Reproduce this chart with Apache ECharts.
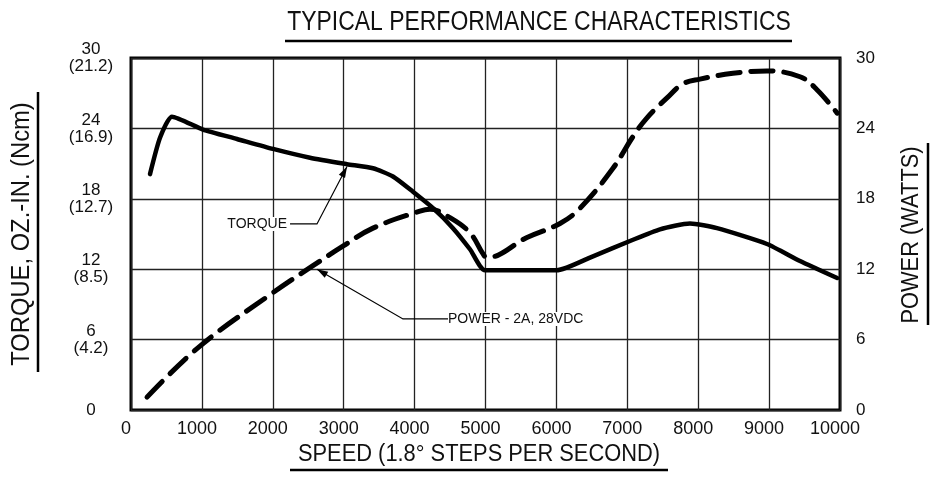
<!DOCTYPE html>
<html>
<head>
<meta charset="utf-8">
<script src="https://cdn.jsdelivr.net/npm/echarts@6/dist/echarts.min.js"></script>
<style>
html,body{margin:0;padding:0;background:#fff;}
#c{width:937px;height:479px;}
</style>
</head>
<body>
<div id="c"></div>
<script>
// ---- data ----
const torqueSpeed  = [268, 409, 578, 1015, 1495, 2003, 2525, 3047, 3413, 3695, 3977, 4260, 4541, 4781, 4995, 6000, 6516, 7038, 7461, 7884, 8265, 8970, 9436, 9960];
const torqueValues = [20.1, 23.2, 25.0, 23.9, 23.1, 22.25, 21.5, 20.95, 20.6, 19.9, 18.6, 17.2, 15.5, 13.7, 11.9, 11.9, 13.1, 14.4, 15.4, 15.9, 15.5, 14.15, 12.7, 11.25];
const powerSpeed   = [226, 973, 2003, 2567, 3000, 3413, 4076, 4217, 4499, 4781, 4965, 5021, 5585, 6051, 6333, 6798, 7080, 7278, 7560, 7786, 8025, 8490, 8970, 9436, 9675, 9960];
const powerValues  = [1.1, 5.45, 10.0, 12.3, 14.0, 15.5, 16.95, 17.1, 16.4, 15.1, 13.3, 13.0, 14.7, 15.9, 17.2, 20.6, 23.3, 24.9, 26.6, 27.8, 28.2, 28.7, 28.9, 28.4, 27.3, 25.3];
const speedTicks = [0, 1000, 2000, 3000, 4000, 5000, 6000, 7000, 8000, 9000, 10000];
const torqueTickLabels = ['0', '6\n(4.2)', '12\n(8.5)', '18\n(12.7)', '24\n(16.9)', '30\n(21.2)'];
const powerTickLabels  = ['0', '6', '12', '18', '24', '30'];
const titleText = 'TYPICAL PERFORMANCE CHARACTERISTICS';
const xName = 'SPEED (1.8° STEPS PER SECOND)';
const yLeftName = 'TORQUE, OZ.-IN. (Ncm)';
const yRightName = 'POWER (WATTS)';
const torqueNote = 'TORQUE';
const powerNote = 'POWER - 2A, 28VDC';

const zip = (xs, ys) => xs.map((x, i) => [x, ys[i]]);
const FONT = '"Liberation Sans", Arial, sans-serif';

const chart = echarts.init(document.getElementById('c'), null, {renderer: 'canvas'});
chart.setOption({
  animation: false,
  backgroundColor: '#fff',
  grid: {left: 131, right: 97, top: 58, bottom: 69, show: true, borderColor: '#000', borderWidth: 3, backgroundColor: 'transparent'},
  xAxis: {
    type: 'value', min: speedTicks[0], max: speedTicks[speedTicks.length - 1], interval: 1000,
    axisLine: {show: false}, axisTick: {show: false},
    splitLine: {show: true, lineStyle: {color: '#222', width: 1.3}},
    axisLabel: {fontFamily: FONT, fontSize: 18, color: '#111', margin: 10, padding: [0, 10, 0, 0],
      formatter: v => String(speedTicks[Math.round(v / 1000)])}
  },
  yAxis: [
    {
      type: 'value', min: 0, max: 30, interval: 6, position: 'left',
      axisLine: {show: false}, axisTick: {show: false},
      splitLine: {show: true, lineStyle: {color: '#222', width: 1.3}},
      axisLabel: {fontFamily: FONT, fontSize: 17, color: '#111', align: 'center', margin: 40, lineHeight: 17,
        formatter: v => torqueTickLabels[Math.round(v / 6)]}
    },
    {
      type: 'value', min: 0, max: 30, interval: 6, position: 'right',
      axisLine: {show: false}, axisTick: {show: false}, splitLine: {show: false},
      axisLabel: {fontFamily: FONT, fontSize: 17, color: '#111', align: 'left', margin: 16,
        formatter: v => powerTickLabels[Math.round(v / 6)]}
    }
  ],
  series: [
    {
      name: 'Torque', type: 'line', yAxisIndex: 0, data: zip(torqueSpeed, torqueValues),
      showSymbol: false, smooth: 0.2, z: 3,
      lineStyle: {color: '#000', width: 4.5, cap: 'round', join: 'round'}
    },
    {
      name: 'Power', type: 'line', yAxisIndex: 1, data: zip(powerSpeed, powerValues),
      showSymbol: false, smooth: 0.4, z: 4,
      lineStyle: {color: '#000', width: 5, type: [22, 11], cap: 'round', join: 'round'}
    }
  ]
});

function arrowHead(from, tip) {
  const dx = tip[0] - from[0], dy = tip[1] - from[1];
  const L = Math.hypot(dx, dy), ux = dx / L, uy = dy / L;
  const len = 11, hw = 3.5;
  const bx = tip[0] - ux * len, by = tip[1] - uy * len;
  return {type: 'polygon', shape: {points: [tip, [bx - uy * hw, by + ux * hw], [bx + uy * hw, by - ux * hw]]}, style: {fill: '#000'}, z: 10};
}

const px = p => chart.convertToPixel({gridIndex: 0}, p);
const tLabel = px([2200, 15.86]), tA = px([2243, 15.86]), tB = px([2623, 15.86]), tTip = px([3047, 20.75]);
const pLabel = px([4471, 7.76]), pA = px([3836, 7.76]), pTip = px([2623, 12.0]);

const txt = (text, x, y, size, rot, sx) => ({
  type: 'text', x: x, y: y, rotation: rot, scaleX: sx, z: 10,
  style: {text: text, fontFamily: FONT, fontSize: size, fill: '#111', align: 'center', verticalAlign: 'middle'}
});

chart.setOption({
  graphic: [
    // title and axis names
    txt(titleText, 539, 23, 27, 0, 0.85),
    txt(xName, 479, 455, 23, 0, 0.95),
    txt(yLeftName, 22, 234, 25, Math.PI / 2, 0.95),
    txt(yRightName, 912, 235, 23, Math.PI / 2, 0.95),
    // underlines
    {type: 'line', shape: {x1: 285, y1: 41, x2: 792, y2: 41}, style: {stroke: '#000', lineWidth: 2.5}},
    {type: 'line', shape: {x1: 290, y1: 470, x2: 668, y2: 470}, style: {stroke: '#000', lineWidth: 2.5}},
    {type: 'line', shape: {x1: 38, y1: 92, x2: 38, y2: 372}, style: {stroke: '#000', lineWidth: 2.5}},
    {type: 'line', shape: {x1: 928, y1: 143, x2: 928, y2: 325}, style: {stroke: '#000', lineWidth: 2.5}},
    // TORQUE annotation
    {type: 'text', x: tLabel[0], y: tLabel[1], z: 10, style: {text: torqueNote, fontFamily: FONT, fontSize: 14, fill: '#111', align: 'right', verticalAlign: 'middle', backgroundColor: '#fff'}},
    {type: 'polyline', shape: {points: [tA, tB, tTip]}, style: {stroke: '#000', lineWidth: 1.2, fill: null}, z: 10},
    arrowHead(tB, tTip),
    // POWER annotation
    {type: 'text', x: pLabel[0], y: pLabel[1], z: 10, style: {text: powerNote, fontFamily: FONT, fontSize: 14, fill: '#111', align: 'left', verticalAlign: 'middle', backgroundColor: '#fff'}},
    {type: 'polyline', shape: {points: [pLabel, pA, pTip]}, style: {stroke: '#000', lineWidth: 1.2, fill: null}, z: 10},
    arrowHead(pA, pTip)
  ]
});
</script>
</body>
</html>
